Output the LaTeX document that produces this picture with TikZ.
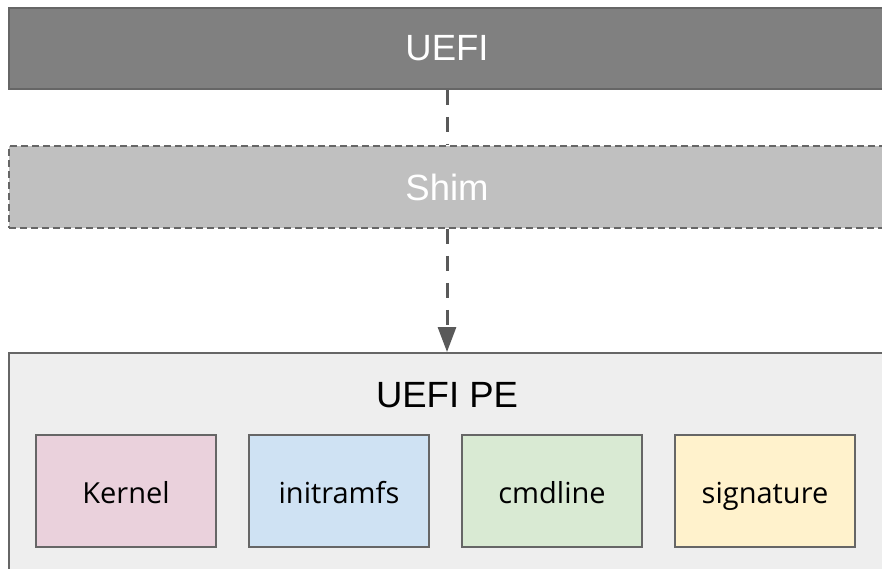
\documentclass[tikz,border=0pt]{standalone}
\usepackage{fontspec}
\setmainfont{Liberation Sans}
\newfontfamily\innerfont{Open Sans}
\usetikzlibrary{arrows.meta}
\definecolor{uefifill}{HTML}{808080}
\definecolor{shimfill}{HTML}{C0C0C0}
\definecolor{pefill}{HTML}{EEEEEE}
\definecolor{edgegray}{HTML}{666666}
\definecolor{arrowgray}{HTML}{595959}
\definecolor{kernfill}{HTML}{EAD1DC}
\definecolor{initfill}{HTML}{CFE2F3}
\definecolor{cmdfill}{HTML}{D9EAD3}
\definecolor{sigfill}{HTML}{FFF2CC}
\tikzset{
  bigtext/.style={font=\fontsize{36.5}{40}\selectfont},
  layer/.style={draw=edgegray, line width=2pt, minimum width=876pt, inner sep=0pt, bigtext},
  uefibox/.style={layer, fill=uefifill, text=white, minimum height=81pt},
  shimbox/.style={layer, fill=shimfill, text=white, minimum height=82pt, line width=1.5pt, dash pattern=on 7pt off 4pt},
  pebox/.style={layer, fill=pefill, minimum height=227pt},
  part/.style={draw=edgegray, line width=2pt, minimum width=180pt, minimum height=112pt, inner sep=0pt, text height=28pt, text depth=4pt, font=\innerfont\fontsize{29}{32}\selectfont},
  flow/.style={draw=arrowgray, line width=3pt, dash pattern=on 15pt off 12pt},
}
\begin{document}
\begin{tikzpicture}[x=1pt,y=-1pt]
\useasboundingbox (0,0) rectangle (882,569);
\clip (0,0) rectangle (882,569);
\fill[white] (0,0) rectangle (882,569);
\node[uefibox] (uefi) at (447,48.5) {UEFI};
\node[shimbox] (shim) at (447,187) {Shim};
\node[pebox] (pe) at (447,466.5) {};
\node[bigtext, anchor=base] (petitle) at (447,407) {UEFI PE};
\node[part, fill=kernfill] (kernel) at (126,491) {Kernel};
\node[part, fill=initfill] (initramfs) at (339,491) {initramfs};
\node[part, fill=cmdfill] (cmdline) at (552,491) {cmdline};
\node[part, fill=sigfill] (signature) at (765,491) {signature};
\draw[flow] (uefi.south) -- (shim.north);
\draw[flow, -{Triangle[length=25pt,width=18pt]}] (shim.south) -- (pe.north);
\end{tikzpicture}
\end{document}
